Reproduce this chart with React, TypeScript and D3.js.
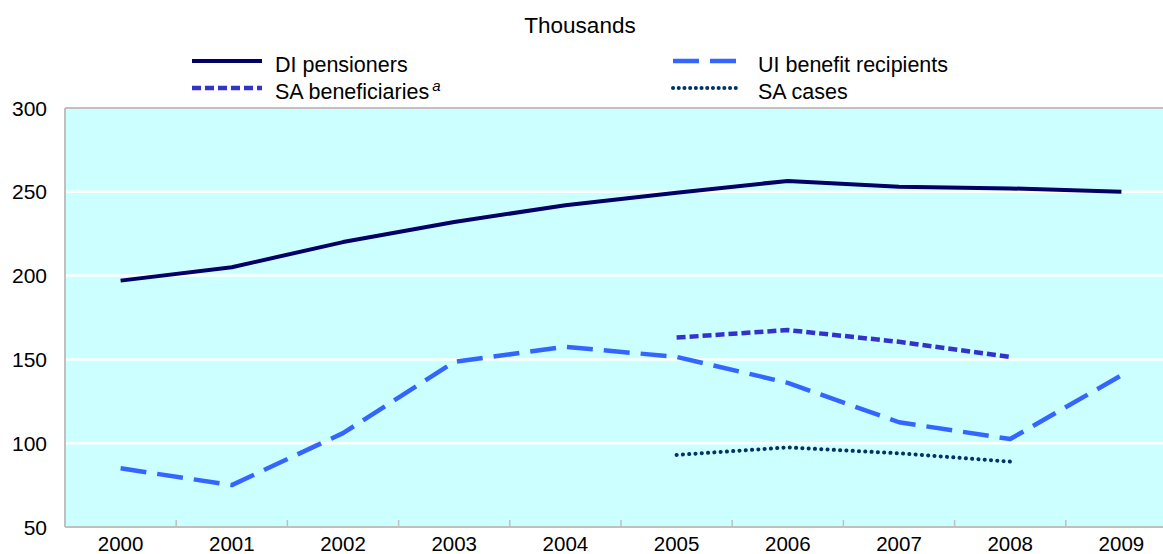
import { useEffect, useRef } from "react";
import * as d3 from "d3";

// years along the x axis
const years = ["2000", "2001", "2002", "2003", "2004", "2005", "2006", "2007", "2008", "2009"];

// thousands of people
const diPensioners = [197, 205, 220, 232, 242, 249.5, 256.5, 253, 252, 250];
const uiRecipients = [85, 75, 106, 148.5, 157.5, 151.5, 136, 112.5, 102.5, 140.5];
const saBeneficiaries: (number | null)[] = [null, null, null, null, null, 163, 167.5, 160.5, 151.5, null];
const saCases: (number | null)[] = [null, null, null, null, null, 93, 97.5, 94, 89, null];

const yTicks = [50, 100, 150, 200, 250, 300];

const FONT = "'Liberation Sans', Arial, sans-serif";

interface Series {
  name: string;
  values: (number | null)[];
  color: string;
  width: number;
  dash: string | null;
  cap: string;
}

const SERIES: Series[] = [
  { name: "DI pensioners", values: diPensioners, color: "#000066", width: 4, dash: null, cap: "butt" },
  { name: "UI benefit recipients", values: uiRecipients, color: "#3366FF", width: 4.5, dash: "26 11", cap: "butt" },
  { name: "SA beneficiaries", values: saBeneficiaries, color: "#3333CC", width: 4.5, dash: "9 4", cap: "butt" },
  { name: "SA cases", values: saCases, color: "#003366", width: 4, dash: "0.1 6.2", cap: "round" },
];

export default function App() {
  const svgRef = useRef<SVGSVGElement>(null);
  const width = 1163;
  const height = 554;

  useEffect(() => {
    if (!svgRef.current) return;
    const svg = d3.select(svgRef.current);
    svg.selectAll("*").remove();

    const left = 65;
    const top = 108;
    const bottom = 527;
    const bandW = 111.2;

    const x = d3
      .scaleBand<string>()
      .domain(years)
      .range([left, left + bandW * years.length])
      .padding(0);
    const y = d3.scaleLinear().domain([50, 300]).range([bottom, top]);
    const cx = (yr: string) => (x(yr) ?? 0) + x.bandwidth() / 2;

    // plot background
    svg
      .append("rect")
      .attr("x", left)
      .attr("y", top)
      .attr("width", x.range()[1] - left)
      .attr("height", bottom - top)
      .attr("fill", "#CCFFFF");

    // gridlines
    svg
      .selectAll(".grid")
      .data(yTicks.filter((t) => t > 50 && t < 300))
      .enter()
      .append("line")
      .attr("x1", left)
      .attr("x2", x.range()[1])
      .attr("y1", (d) => y(d))
      .attr("y2", (d) => y(d))
      .attr("stroke", "white")
      .attr("stroke-width", 2.5);

    // border: top, left, bottom
    const border = "#C0C0C0";
    svg.append("line").attr("x1", left).attr("x2", x.range()[1]).attr("y1", top).attr("y2", top)
      .attr("stroke", border).attr("stroke-width", 2);
    svg.append("line").attr("x1", left).attr("x2", left).attr("y1", top).attr("y2", bottom)
      .attr("stroke", border).attr("stroke-width", 2);
    svg.append("line").attr("x1", left).attr("x2", x.range()[1]).attr("y1", bottom).attr("y2", bottom)
      .attr("stroke", border).attr("stroke-width", 2);

    // x tick marks between categories
    svg
      .selectAll(".xtick")
      .data(years.slice(1))
      .enter()
      .append("line")
      .attr("x1", (d) => x(d) ?? 0)
      .attr("x2", (d) => x(d) ?? 0)
      .attr("y1", bottom)
      .attr("y2", bottom - 7)
      .attr("stroke", border)
      .attr("stroke-width", 1.5);

    // x labels
    svg
      .selectAll(".xlab")
      .data(years)
      .enter()
      .append("text")
      .attr("x", (d) => cx(d))
      .attr("y", 551)
      .attr("text-anchor", "middle")
      .attr("font-family", FONT)
      .attr("font-size", 20.5)
      .attr("fill", "#000")
      .text((d) => d);

    // y labels
    svg
      .selectAll(".ylab")
      .data(yTicks)
      .enter()
      .append("text")
      .attr("x", 47)
      .attr("y", (d) => y(d))
      .attr("dy", "0.36em")
      .attr("text-anchor", "end")
      .attr("font-family", FONT)
      .attr("font-size", 21)
      .attr("fill", "#000")
      .text((d) => d);

    // series lines
    const line = d3
      .line<number | null>()
      .defined((d) => d != null)
      .x((_, i) => cx(years[i]))
      .y((d) => y(d as number));

    SERIES.forEach((s) => {
      svg
        .append("path")
        .datum(s.values)
        .attr("fill", "none")
        .attr("stroke", s.color)
        .attr("stroke-width", s.width)
        .attr("stroke-linejoin", "round")
        .attr("stroke-linecap", s.cap)
        .attr("stroke-dasharray", s.dash)
        .attr("d", line);
    });

    // title
    svg
      .append("text")
      .attr("x", 580)
      .attr("y", 33)
      .attr("text-anchor", "middle")
      .attr("font-family", FONT)
      .attr("font-size", 22.5)
      .attr("fill", "#000")
      .text("Thousands");

    // legend
    const legendPos = [
      { x1: 192, x2: 262, tx: 275, y: 61 },
      { x1: 673, x2: 740, tx: 758, y: 61 },
      { x1: 192, x2: 262, tx: 275, y: 88 },
      { x1: 673, x2: 740, tx: 758, y: 88 },
    ];
    SERIES.forEach((s, i) => {
      const p = legendPos[i];
      svg
        .append("line")
        .attr("x1", p.x1)
        .attr("x2", p.x2)
        .attr("y1", p.y)
        .attr("y2", p.y)
        .attr("stroke", s.color)
        .attr("stroke-width", s.width)
        .attr("stroke-linecap", s.cap)
        .attr("stroke-dasharray", s.name === "SA cases" ? "0.1 5.6" : s.dash);
      const t = svg
        .append("text")
        .attr("x", p.tx)
        .attr("y", p.y + 10.5)
        .attr("font-family", FONT)
        .attr("font-size", 21.5)
        .attr("fill", "#000")
        .text(s.name);
      if (s.name === "SA beneficiaries") {
        t.append("tspan")
          .attr("dx", 3)
          .attr("dy", -8)
          .attr("font-size", 15)
          .attr("font-style", "italic")
          .text("a");
      }
    });
  }, []);

  return (
    <svg
      ref={svgRef}
      width={width}
      height={height}
      style={{ position: "absolute", left: 0, top: 0, background: "#fff" }}
    />
  );
}
